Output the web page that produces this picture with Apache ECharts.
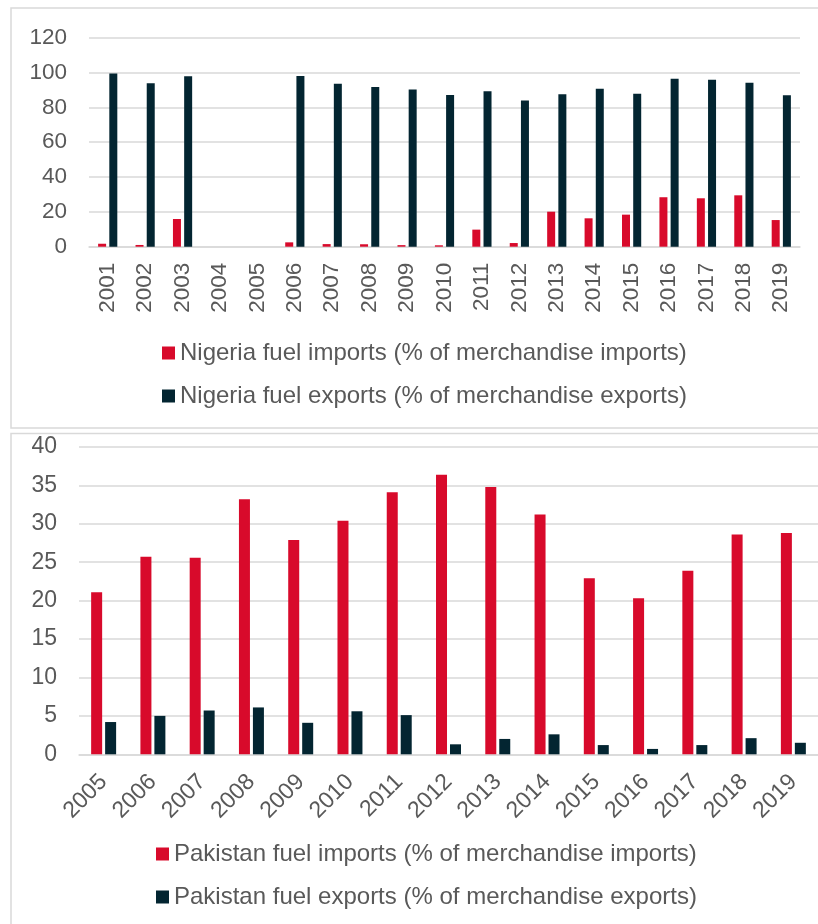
<!DOCTYPE html>
<html>
<head>
<meta charset="utf-8">
<script src="https://cdn.jsdelivr.net/npm/echarts@6/dist/echarts.min.js"></script>
<style>
html,body{margin:0;padding:0;background:#fff;}
#chart{width:818px;height:924px;}
</style>
</head>
<body>
<div id="chart"></div>
<script>
// Nigeria (top chart)
const nigeriaYears = ['2001','2002','2003','2004','2005','2006','2007','2008','2009','2010','2011','2012','2013','2014','2015','2016','2017','2018','2019'];
const nigeriaImports = [1.7, 1.0, 15.9, null, null, 2.5, 1.5, 1.4, 0.9, 0.8, 9.8, 2.1, 20.1, 16.3, 18.4, 28.4, 27.8, 29.5, 15.3];
const nigeriaExports = [99.5, 93.8, 97.8, null, null, 98.0, 93.6, 91.7, 90.3, 87.1, 89.2, 84.0, 87.5, 90.7, 87.8, 96.4, 95.9, 94.1, 86.9];
const nigeriaNames = ['Nigeria fuel imports (% of merchandise imports)', 'Nigeria fuel exports (% of merchandise exports)'];

// Pakistan (bottom chart)
const pakistanYears = ['2005','2006','2007','2008','2009','2010','2011','2012','2013','2014','2015','2016','2017','2018','2019'];
const pakistanImports = [21.1, 25.7, 25.6, 33.2, 27.9, 30.4, 34.1, 36.4, 34.8, 31.2, 22.9, 20.3, 23.9, 28.6, 28.8];
const pakistanExports = [4.2, 5.0, 5.7, 6.1, 4.1, 5.6, 5.1, 1.3, 2.0, 2.6, 1.2, 0.7, 1.2, 2.1, 1.5];
const pakistanNames = ['Pakistan fuel imports (% of merchandise imports)', 'Pakistan fuel exports (% of merchandise exports)'];

const RED = '#D80A2B';
const DARK = '#032531';
const GRID = '#D9D9D9';
const TXT = '#595959';
const FONT = '"Liberation Sans", Arial, sans-serif';

const chart = echarts.init(document.getElementById('chart'), null, {renderer: 'canvas'});

const option = {
  backgroundColor: '#fff',
  animation: false,
  textStyle: {fontFamily: FONT},
  graphic: [
    {type: 'rect', shape: {x: 11, y: 8, width: 830, height: 420}, style: {fill: 'none', stroke: GRID, lineWidth: 1.5}, silent: true},
    {type: 'rect', shape: {x: 11, y: 433.5, width: 830, height: 520}, style: {fill: 'none', stroke: GRID, lineWidth: 1.5}, silent: true}
  ],
  grid: [
    {left: 89, top: 37.7, width: 711, height: 209, containLabel: false},
    {left: 79, top: 447, width: 745, height: 307.3, containLabel: false}
  ],
  legend: [
    {
      orient: 'vertical', left: 162, top: 341, padding: 0, itemWidth: 13, itemHeight: 13, itemGap: 19,
      icon: 'rect', data: nigeriaNames,
      textStyle: {color: TXT, fontSize: 24, fontFamily: FONT, lineHeight: 24},
      selectedMode: false
    },
    {
      orient: 'vertical', left: 156, top: 842, padding: 0, itemWidth: 13, itemHeight: 13, itemGap: 19,
      icon: 'rect', data: pakistanNames,
      textStyle: {color: TXT, fontSize: 24, fontFamily: FONT, lineHeight: 24},
      selectedMode: false
    }
  ],
  xAxis: [
    {
      type: 'category', gridIndex: 0, data: nigeriaYears,
      axisLine: {lineStyle: {color: GRID, width: 1.5}},
      axisTick: {show: false},
      axisLabel: {rotate: 90, color: TXT, fontSize: 22.5, fontFamily: FONT, margin: 16, interval: 0}
    },
    {
      type: 'category', gridIndex: 1, data: pakistanYears,
      axisLine: {lineStyle: {color: GRID, width: 1.5}},
      axisTick: {show: false},
      axisLabel: {rotate: 45, color: TXT, fontSize: 23, fontFamily: FONT, margin: 24, interval: 0, padding: [10, 0, 0, 0]}
    }
  ],
  yAxis: [
    {
      type: 'value', gridIndex: 0, min: 0, max: 120, interval: 20,
      axisLine: {show: false}, axisTick: {show: false},
      splitLine: {lineStyle: {color: GRID, width: 1.5}},
      axisLabel: {color: TXT, fontSize: 22.5, fontFamily: FONT, margin: 22}
    },
    {
      type: 'value', gridIndex: 1, min: 0, max: 40, interval: 5,
      axisLine: {show: false}, axisTick: {show: false},
      splitLine: {lineStyle: {color: GRID, width: 1.5}},
      axisLabel: {color: TXT, fontSize: 23, fontFamily: FONT, margin: 22}
    }
  ],
  series: [
    {
      name: nigeriaNames[0], type: 'bar', xAxisIndex: 0, yAxisIndex: 0,
      data: nigeriaImports, barWidth: 8, barGap: '40%',
      itemStyle: {color: RED}
    },
    {
      name: nigeriaNames[1], type: 'bar', xAxisIndex: 0, yAxisIndex: 0,
      data: nigeriaExports, barWidth: 8, barGap: '40%',
      itemStyle: {color: DARK}
    },
    {
      name: pakistanNames[0], type: 'bar', xAxisIndex: 1, yAxisIndex: 1,
      data: pakistanImports, barWidth: 11, barGap: '27%',
      itemStyle: {color: RED}
    },
    {
      name: pakistanNames[1], type: 'bar', xAxisIndex: 1, yAxisIndex: 1,
      data: pakistanExports, barWidth: 11, barGap: '27%',
      itemStyle: {color: DARK}
    }
  ]
};

chart.setOption(option);
</script>
</body>
</html>
